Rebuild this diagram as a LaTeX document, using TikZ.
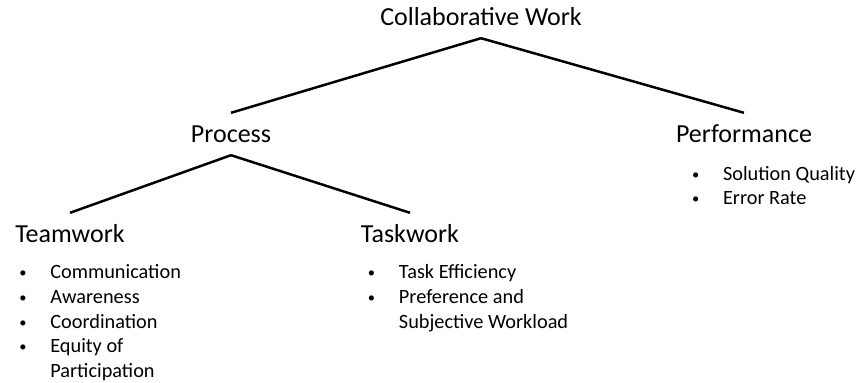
\documentclass[tikz,border=0pt]{standalone}
\usepackage{fontspec}
\setmainfont{Carlito}
\usetikzlibrary{positioning}

% small bullet with a fixed indent before the item text
\newcommand{\itm}{\makebox[31pt][l]{\raisebox{1pt}{\fontsize{14.5}{14.5}\selectfont\textbullet}}}

\begin{document}
\begin{tikzpicture}[x=1pt,y=-1pt,
		head/.style={font=\fontsize{26}{30}\selectfont,text height=21pt,text depth=5pt,
			inner xsep=0pt,inner ysep=8pt,anchor=base},
		items/.style={font=\fontsize{20.3}{24.7}\selectfont,align=left,inner sep=0pt},
		link/.style={line width=2.5pt}]
		\useasboundingbox (0,0) rectangle (860,383);
		% tree levels
		\node[head] (cw) at (481,25) {Collaborative Work};
		\node[head] (process) at (231,142) {Process};
		\node[head] (perf) at (744,142) {Performance};
		\node[head] (teamwork) at (70,242) {Teamwork};
		\node[head] (taskwork) at (410,242) {Taskwork};
		\draw[link] (cw.south)--(process.north);
		\draw[link] (cw.south)--(perf.north);
		\draw[link] (process.south)--(teamwork.north);
		\draw[link] (process.south)--(taskwork.north);
		% measures under each heading
		\node[items,below right=6pt and 4pt of teamwork.south west] (teamlist)
			{\strut\itm Communication\\ \itm Awareness\\ \itm Coordination\\
			\itm Equity of\\ \hspace*{31pt}Participation};
		\node[items,below right=6pt and 7pt of taskwork.south west] (tasklist)
			{\strut\itm Task Efficiency\\ \itm Preference and\\
			\hspace*{31pt}Subjective Workload};
		\node[items,below right=7.5pt and 16pt of perf.south west] (perflist)
			{\strut\itm Solution Quality\\ \itm Error Rate};
	\end{tikzpicture}
\end{document}
